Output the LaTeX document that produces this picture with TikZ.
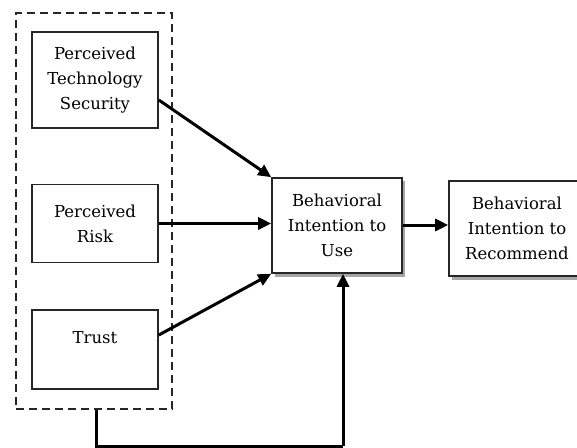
\documentclass[tikz,border=0pt]{standalone}
\usepackage{fontspec}
\setmainfont{DejaVu Serif}
\usetikzlibrary{arrows.meta}
\begin{document}
\begin{tikzpicture}[x=1pt,y=-1pt,
  box/.style={draw=black!85,line width=1.6pt,fill=white,align=center,inner sep=0pt,font=\fontsize{16.5}{25}\selectfont},
  shadowbox/.style={fill=black!35},
  arr/.style={line width=3pt,-{Triangle[length=13pt,width=12pt]}}]
\useasboundingbox (0,0) rectangle (577,447);
\clip (0,0) rectangle (577,447);
% dashed group
\node[draw=black!85,line width=2.2pt,dash pattern=on 8pt off 5pt,minimum width=156pt,minimum height=396pt,inner sep=0pt] (grp) at (94,211) {};
% left boxes
\node[box,minimum width=126pt,minimum height=96pt] (pts) at (95,80) {Perceived\\Technology\\Security};
\node[box,minimum width=126pt,minimum height=78pt] (pr) at (95,223.5) {Perceived\\Risk};
\node[box,minimum width=126pt,minimum height=79pt,text depth=24pt] (tr) at (95,349.5) {Trust};
% shadows
\fill[shadowbox] (275,181) rectangle (405,277);
\fill[shadowbox] (452,184) rectangle (590,280);
\node[box,minimum width=130pt,minimum height=95pt] (biu) at (337,225.5) {Behavioral\\Intention to\\Use};
\node[box,minimum width=136pt,minimum height=95pt] (bir) at (517,228.5) {Behavioral\\Intention to\\Recommend};
% arrows
\draw[arr] (pts.east |- 0,100) -- (biu.north west);
\draw[arr] (pr.east) -- (pr.east -| biu.west);
\draw[arr] (tr.east |- 0,335) -- (biu.south west);
\draw[arr] (biu.east |- 0,225) -- (bir.west |- 0,225);
\coordinate (c1) at (96,446);
\coordinate (c2) at (343,446);
\draw[line width=3pt] (grp.south -| c1) -- (c1) -- (c2);
\draw[arr] (c2) -- (biu.south -| c2);
\end{tikzpicture}
\end{document}
